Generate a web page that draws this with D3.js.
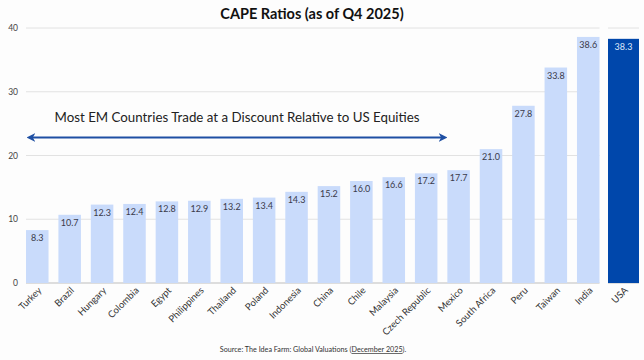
<!DOCTYPE html>
<html><head><meta charset="utf-8">
<script src="https://cdn.jsdelivr.net/npm/d3@7"></script>
<style>
body{margin:0;background:#fdfdfd;}
svg{display:block;font-family:"Lato","Open Sans",sans-serif;}
</style></head>
<body><svg id="c" width="644" height="360"></svg>
<script>
const emCountries = ["Turkey","Brazil","Hungary","Colombia","Egypt","Philippines","Thailand","Poland","Indonesia","China","Chile","Malaysia","Czech Republic","Mexico","South Africa","Peru","Taiwan","India"];
const emValues = [8.3,10.7,12.3,12.4,12.8,12.9,13.2,13.4,14.3,15.2,16.0,16.6,17.2,17.7,21.0,27.8,33.8,38.6];
const usCountries = ["USA"];
const usValues = [38.3];
const yTicks = [0,10,20,30,40];
const titleText = "CAPE Ratios (as of Q4 2025)";
const annotation = "Most EM Countries Trade at a Discount Relative to US Equities";

const svg = d3.select("#c");
const y = d3.scaleLinear().domain([0,40]).range([283,28]);
const xEM = d3.scaleBand().domain(emCountries).range([26,599.5]).paddingInner(0.305).paddingOuter(0);
const xUS = d3.scaleBand().domain(usCountries).range([608,639]).padding(0);

// gridlines
const grid = svg.append("g");
grid.selectAll("line.em").data(yTicks).join("line")
  .attr("x1",26).attr("x2",599.5).attr("y1",d=>y(d)).attr("y2",d=>y(d))
  .attr("stroke",d=>d===0?"#bdbdbd":"#e2e2e2").attr("stroke-width",1);
grid.selectAll("line.us").data(yTicks).join("line").attr("class","us")
  .attr("x1",608).attr("x2",639).attr("y1",d=>y(d)).attr("y2",d=>y(d))
  .attr("stroke",d=>d===0?"#bdbdbd":"#e2e2e2").attr("stroke-width",1);

// y labels
svg.append("g").selectAll("text").data(yTicks).join("text")
  .attr("x",18).attr("y",d=>y(d)+3).attr("text-anchor","end")
  .attr("font-size",8.5).attr("fill","#444").text(d=>d);

// EM bars
svg.append("g").selectAll("rect").data(emCountries).join("rect")
  .attr("x",d=>xEM(d)).attr("width",xEM.bandwidth())
  .attr("y",(d,i)=>y(emValues[i])).attr("height",(d,i)=>y(0)-y(emValues[i]))
  .attr("fill","#c9dbfb");
svg.append("g").selectAll("text").data(emCountries).join("text")
  .attr("x",d=>xEM(d)+xEM.bandwidth()/2).attr("y",(d,i)=>y(emValues[i])+11)
  .attr("text-anchor","middle").attr("font-size",9).attr("fill","#3a3a4a")
  .text((d,i)=>emValues[i].toFixed(1));

// US bar
svg.append("g").selectAll("rect").data(usCountries).join("rect")
  .attr("x",d=>xUS(d)).attr("width",xUS.bandwidth())
  .attr("y",(d,i)=>y(usValues[i])).attr("height",(d,i)=>y(0)-y(usValues[i]))
  .attr("fill","#0047ab");
svg.append("g").selectAll("text").data(usCountries).join("text")
  .attr("x",d=>xUS(d)+xUS.bandwidth()/2).attr("y",(d,i)=>y(usValues[i])+11)
  .attr("text-anchor","middle").attr("font-size",9).attr("fill","#dfe8fa")
  .text((d,i)=>usValues[i].toFixed(1));

// x labels
function xlabels(scale, data){
  svg.append("g").selectAll("text").data(data).join("text")
    .attr("transform",d=>`translate(${scale(d)+scale.bandwidth()/2+5},${291}) rotate(-45)`)
    .attr("text-anchor","end").attr("font-size",9.5).attr("fill","#333").text(d=>d);
}
xlabels(xEM, emCountries);
xlabels(xUS, usCountries);

// title
svg.append("text").attr("x",312).attr("y",19).attr("text-anchor","middle")
  .attr("font-size",14.5).attr("font-weight","bold").attr("fill","#111").text(titleText);

// annotation
svg.append("text").attr("x",237).attr("y",122).attr("text-anchor","middle")
  .attr("font-size",13.3).attr("fill","#222").text(annotation);
const defs = svg.append("defs");
defs.append("marker").attr("id","ah").attr("viewBox","0 0 10 10").attr("refX",5).attr("refY",5)
  .attr("markerWidth",4).attr("markerHeight",4).attr("orient","auto-start-reverse")
  .append("path").attr("d","M0,0 L10,5 L0,10 L3,5 Z").attr("fill","#1e4fa3");
svg.append("line").attr("x1",31).attr("x2",443).attr("y1",137.5).attr("y2",137.5)
  .attr("stroke","#1e4fa3").attr("stroke-width",2.2)
  .attr("marker-start","url(#ah)").attr("marker-end","url(#ah)");

// source
const src = svg.append("text").attr("x",313).attr("y",352).attr("text-anchor","middle")
  .attr("font-size",7.2).attr("fill","#333");
src.append("tspan").text("Source: The Idea Farm: Global Valuations (");
src.append("tspan").attr("text-decoration","underline").text("December 2025");
src.append("tspan").text(").");
</script></body></html>
